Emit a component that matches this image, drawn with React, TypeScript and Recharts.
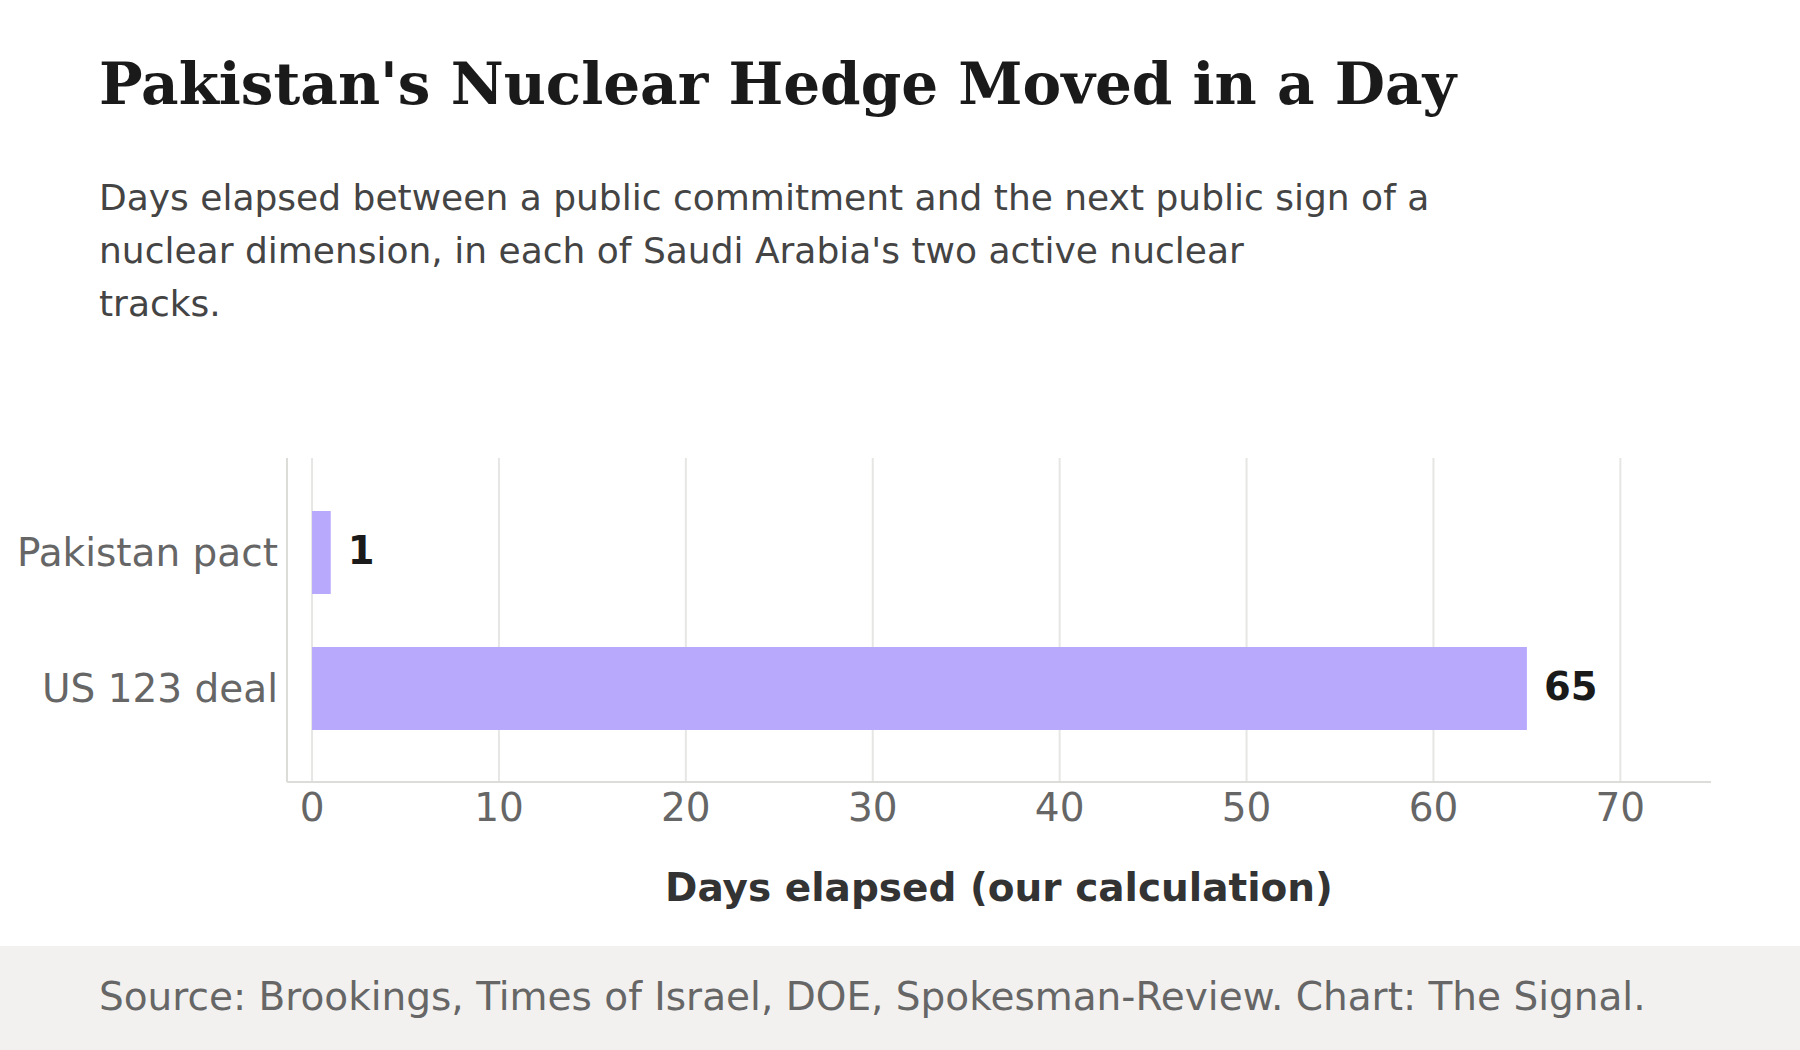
import React from "react"
import { BarChart, Bar, XAxis, YAxis, CartesianGrid, LabelList } from "recharts"

const categories = ["Pakistan pact", "US 123 deal"]
const daysElapsed = [1, 65]
const xTicks = [0, 10, 20, 30, 40, 50, 60, 70]
const xDomain = [-1.34, 74.85]

const title = "Pakistan's Nuclear Hedge Moved in a Day"
const subtitleLines = [
  "Days elapsed between a public commitment and the next public sign of a",
  "nuclear dimension, in each of Saudi Arabia's two active nuclear",
  "tracks.",
]
const xLabel = "Days elapsed (our calculation)"
const source = "Source: Brookings, Times of Israel, DOE, Spokesman-Review. Chart: The Signal."

const SANS = "'DejaVu Sans', Verdana, sans-serif"
const SERIF = "'DejaVu Serif', Georgia, serif"
const BAR_COLOR = "#b8a9fd"

const data = categories.map((name, i) => ({ name, days: daysElapsed[i] }))

function ValueLabel(props: any) {
  const { x, y, width, height, value } = props
  return (
    <text
      x={x + width + 17}
      y={y + height / 2}
      dy="0.3em"
      fill="#1a1a1a"
      fontSize={38.5}
      fontWeight="bold"
      fontFamily={SANS}
    >
      {value}
    </text>
  )
}

export default function App() {
  return (
    <div style={{ position: "absolute", left: 0, top: 0, width: 1800, height: 1050, background: "#fff" }}>
      <div style={{ position: "absolute", left: 0, top: 946, width: 1800, height: 104, background: "#f2f1ef" }} />
      <BarChart
        width={1800}
        height={1050}
        data={data}
        layout="vertical"
        margin={{ top: 458, right: 89, bottom: 148, left: 0 }}
        style={{ position: "absolute", left: 0, top: 0 }}
      >
        {/* grid lines only at the tick values, no frame lines at the plot edges */}
        <CartesianGrid horizontal={false} stroke="#e6e6e4" strokeWidth={2} syncWithTicks />
        <XAxis
          type="number"
          domain={xDomain}
          ticks={xTicks}
          allowDataOverflow
          height={120}
          tickLine={false}
          tickSize={0}
          tickMargin={11}
          axisLine={{ stroke: "#dcdcd8", strokeWidth: 2 }}
          tick={{ fill: "#666", fontSize: 39, fontFamily: SANS }}
        />
        <YAxis
          type="category"
          dataKey="name"
          width={287}
          padding={{ top: 26, bottom: 26 }}
          tickLine={false}
          tickSize={0}
          tickMargin={9}
          axisLine={{ stroke: "#dcdcd8", strokeWidth: 2 }}
          tick={{ fill: "#666", fontSize: 39, fontFamily: SANS }}
        />
        <Bar dataKey="days" fill={BAR_COLOR} barSize={83} isAnimationActive={false}>
          <LabelList dataKey="days" content={ValueLabel} />
        </Bar>
      </BarChart>
      <svg
        width={1800}
        height={1050}
        style={{ position: "absolute", left: 0, top: 0, pointerEvents: "none" }}
      >
        <text x={99} y={104} fill="#1a1a1a" fontSize={58} fontWeight="bold" fontFamily={SERIF}>
          {title}
        </text>
        {subtitleLines.map((line, i) => (
          <text key={i} x={99} y={210 + i * 53} fill="#444" fontSize={36} fontFamily={SANS}>
            {line}
          </text>
        ))}
        <text x={999} y={901} textAnchor="middle" fill="#333" fontSize={39} fontWeight="bold" fontFamily={SANS}>
          {xLabel}
        </text>
        <text x={99} y={1010} fill="#666" fontSize={39} fontFamily={SANS}>
          {source}
        </text>
      </svg>
    </div>
  )
}
